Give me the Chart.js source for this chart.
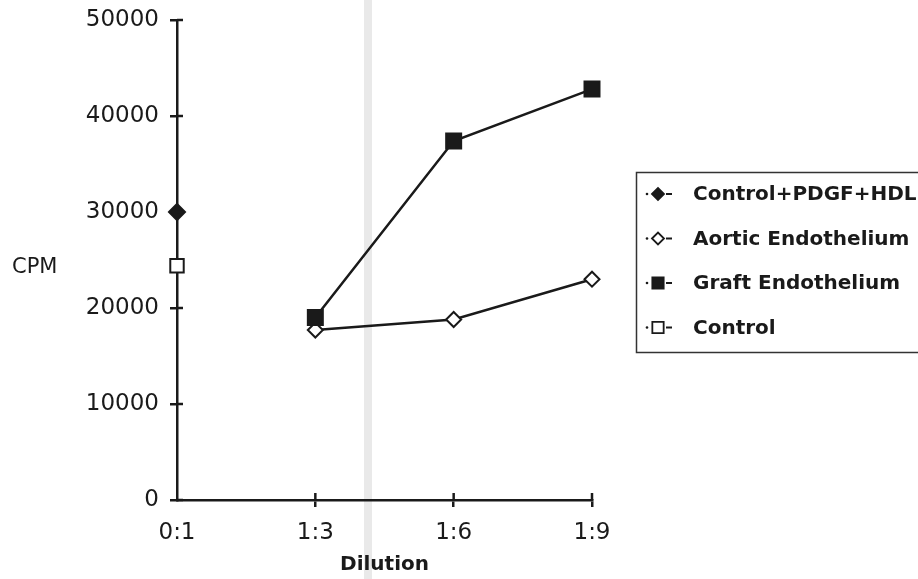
<!DOCTYPE html>
<html>
<head>
<meta charset="utf-8">
<script src="https://cdn.jsdelivr.net/npm/chart.js@4.4.1/dist/chart.umd.min.js"></script>
<style>
  html, body { margin: 0; padding: 0; background: #fff; }
  #wrap { width: 918px; height: 579px; position: relative; }
</style>
</head>
<body>
<div id="wrap"><canvas id="c" width="918" height="579"></canvas></div>
<script>
// data
const dilutions = ["0:1", "1:3", "1:6", "1:9"];
const pdgfHdl = [30000, null, null, null];
const aortic = [null, 17700, 18800, 23000];
const graft = [null, 19000, 37400, 42800];
const control = [24400, null, null, null];
const seriesNames = ["Control+PDGF+HDL", "Aortic Endothelium", "Graft Endothelium", "Control"];
const yMax = 50000;
const yStep = 10000;

const ink = "#1a1a1a";
const tickFont = { family: "DejaVu Sans", size: 23 };
const labelFont = { family: "DejaVu Sans", size: 20, weight: "bold" };

// scan stripe, y title, tick marks inside the plot, boxed legend
const paperPlugin = {
  id: "paper",
  beforeDraw(chart) {
    const ctx = chart.ctx;
    ctx.save();
    ctx.fillStyle = "#fff";
    ctx.fillRect(0, 0, chart.width, chart.height);
    ctx.fillStyle = "rgba(200,200,200,0.4)";
    ctx.fillRect(364, 0, 8, chart.height);
    ctx.restore();
  },
  afterDraw(chart) {
    const ctx = chart.ctx;
    const xs = chart.scales.x, ys = chart.scales.y;
    const area = chart.chartArea;
    ctx.save();
    ctx.strokeStyle = ink;
    ctx.lineWidth = 2.5;
    ys.ticks.forEach((t, i) => {
      const y = ys.getPixelForTick(i);
      ctx.beginPath();
      ctx.moveTo(area.left, y);
      ctx.lineTo(area.left + 6, y);
      ctx.stroke();
    });
    xs.ticks.forEach((t, i) => {
      if (i === 0) return;
      const x = xs.getPixelForTick(i);
      ctx.beginPath();
      ctx.moveTo(x, area.bottom);
      ctx.lineTo(x, area.bottom - 7);
      ctx.stroke();
    });

    // CPM label, horizontal
    ctx.fillStyle = ink;
    ctx.font = "21px 'DejaVu Sans'";
    ctx.textBaseline = "middle";
    ctx.textAlign = "left";
    ctx.fillText("CPM", 12, 268);

    // legend box
    ctx.lineWidth = 1.5;
    ctx.strokeStyle = "#333";
    ctx.strokeRect(636.5, 172.5, 400, 180);
    ctx.font = "bold 20px 'DejaVu Sans'";
    chart.data.datasets.forEach((ds, i) => {
      const y = 194 + i * 44.5;
      ctx.fillStyle = ink;
      ctx.beginPath();
      ctx.arc(647, y, 1.3, 0, Math.PI * 2);
      ctx.fill();
      ctx.lineWidth = 1.8;
      ctx.strokeStyle = ink;
      ctx.fillStyle = ds.pointBackgroundColor;
      Chart.helpers.drawPoint(ctx, {
        pointStyle: ds.pointStyle, rotation: 0,
        radius: ds.pointStyle === "rect" ? 8 : 6, borderWidth: 1.8
      }, 658, y);
      ctx.fillStyle = ink;
      ctx.fillRect(666, y - 1, 6, 2);
      ctx.fillText(ds.label, 693, y + 1);
    });
    ctx.restore();
  }
};

const markerCommon = { borderColor: ink, pointBorderColor: ink, borderWidth: 2.5, pointBorderWidth: 2 };

new Chart(document.getElementById("c"), {
  type: "line",
  data: {
    labels: dilutions,
    datasets: [
      { label: seriesNames[0], data: pdgfHdl, pointStyle: "rectRot", pointRadius: 8,
        pointBackgroundColor: ink, order: 1, ...markerCommon },
      { label: seriesNames[1], data: aortic, pointStyle: "rectRot", pointRadius: 7.5,
        pointBackgroundColor: "#fff", order: 1, ...markerCommon },
      { label: seriesNames[2], data: graft, pointStyle: "rect", pointRadius: 10.6,
        pointBackgroundColor: ink, order: 0, ...markerCommon },
      { label: seriesNames[3], data: control, pointStyle: "rect", pointRadius: 9.5,
        pointBackgroundColor: "#fff", order: 1, ...markerCommon }
    ]
  },
  options: {
    responsive: false,
    animation: false,
    devicePixelRatio: 1,
    layout: { padding: { left: 0, right: 326, top: 20, bottom: 0 } },
    plugins: { legend: { display: false }, tooltip: { enabled: false } },
    scales: {
      x: {
        type: "category",
        offset: false,
        grid: {
          drawOnChartArea: false, drawTicks: true, tickLength: 7, lineWidth: 2.5,
          color: c => (c.index === 0 ? "rgba(0,0,0,0)" : ink)
        },
        border: { color: ink, width: 2.5 },
        ticks: { color: ink, font: tickFont, padding: 12, maxRotation: 0, autoSkip: false },
        title: { display: true, text: "Dilution", color: ink, font: labelFont, padding: { top: 0, bottom: 2 } },
        afterFit: s => { s.height = 79; s.paddingLeft = 0; s.paddingRight = 0; }
      },
      y: {
        min: 0,
        max: yMax,
        grid: { drawOnChartArea: false, drawTicks: true, tickLength: 7, lineWidth: 2.5, color: ink },
        border: { color: ink, width: 2.5 },
        ticks: { stepSize: yStep, color: ink, font: tickFont, padding: 11, callback: v => String(v) },
        afterFit: s => { s.width = 177; s.paddingTop = 0; s.paddingBottom = 0; }
      }
    }
  },
  plugins: [paperPlugin]
});
</script>
</body>
</html>
